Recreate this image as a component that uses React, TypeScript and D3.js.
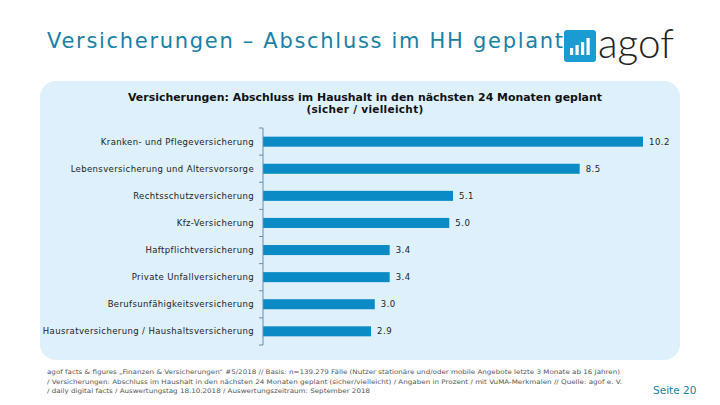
import * as d3 from "d3";

const categories = [
  "Kranken- und Pflegeversicherung",
  "Lebensversicherung und Altersvorsorge",
  "Rechtsschutzversicherung",
  "Kfz-Versicherung",
  "Haftpflichtversicherung",
  "Private Unfallversicherung",
  "Berufsunfähigkeitsversicherung",
  "Hausratversicherung / Haushaltsversicherung",
];
const values = [10.2, 8.5, 5.1, 5.0, 3.4, 3.4, 3.0, 2.9];

const footerLines = [
  "agof facts & figures „Finanzen & Versicherungen“ #5/2018 // Basis: n=139.279 Fälle (Nutzer stationäre und/oder mobile Angebote letzte 3 Monate ab 16 Jahren)",
  "/ Versicherungen: Abschluss im Haushalt in den nächsten 24 Monaten geplant (sicher/vielleicht) / Angaben in Prozent / mit VuMA-Merkmalen // Quelle: agof e. V.",
  "/ daily digital facts / Auswertungstag 18.10.2018 / Auswertungszeitraum: September 2018",
];
const footerWidths = [573, 575, 323];

const W = 720;
const H = 405;
const FONT = "'DejaVu Sans', Verdana, sans-serif";
const BAR = "#0a8bc5";

export default function App() {
  const axisX = 263;
  const x = d3.scaleLinear().domain([0, 10.2]).range([axisX, 643]);
  const y = d3.scaleBand().domain(categories).range([128, 345]).paddingInner(0.63).paddingOuter(0.32);
  const ticks = d3.range(categories.length + 1).map((i) => 128 + (i * (345 - 128)) / categories.length);

  return (
    <svg width={W} height={H} style={{ position: "absolute", left: 0, top: 0 }}>
      <rect width={W} height={H} fill="#fff" />
      <text x={47} y={48} fontFamily="'DejaVu Sans', Verdana, sans-serif" fontSize={21} fill="#1a80a6" textLength={516} lengthAdjust="spacing">
        Versicherungen – Abschluss im HH geplant
      </text>
      {/* logo */}
      <rect x={564} y={30} width={32} height={32} rx={3} fill="#1a9bd1" />
      {[0, 1, 2, 3].map((i) => {
        const hs = [7, 10, 13, 17];
        return <rect key={i} x={570 + i * 5.5} y={55 - hs[i]} width={3.2} height={hs[i]} fill="#fff" />;
      })}
      <text x={598} y={58} fontFamily="Lato, Roboto, sans-serif" fontSize={42} fontWeight={300} fill="#222" textLength={76} lengthAdjust="spacingAndGlyphs">
        agof
      </text>

      <rect x={40} y={81} width={640} height={279} rx={16} fill="#ddf0fc" />
      <text x={365} y={101} textAnchor="middle" fontFamily={FONT} fontSize={10.5} fontWeight="bold" fill="#111" textLength={474} lengthAdjust="spacingAndGlyphs">
        Versicherungen: Abschluss im Haushalt in den nächsten 24 Monaten geplant
      </text>
      <text x={365} y={113} textAnchor="middle" fontFamily={FONT} fontSize={10.5} fontWeight="bold" fill="#111" letterSpacing={0.3}>
        (sicher / vielleicht)
      </text>

      {categories.map((c, i) => {
        const yy = y(c)!;
        return (
          <g key={c}>
            <rect x={axisX} y={yy} width={x(values[i]) - axisX} height={y.bandwidth()} fill={BAR} />
            <text x={axisX - 9} y={yy + y.bandwidth() / 2} dy="0.35em" textAnchor="end" fontFamily={FONT} fontSize={8.5} letterSpacing={0.38} fill="#222">
              {c}
            </text>
            <text x={x(values[i]) + 6} y={yy + y.bandwidth() / 2} dy="0.35em" fontFamily={FONT} fontSize={8.5} letterSpacing={0.5} fill="#222">
              {d3.format(".1f")(values[i])}
            </text>
          </g>
        );
      })}
      <line x1={axisX} x2={axisX} y1={128} y2={345} stroke="#6a8ea6" />
      {ticks.map((t) => (
        <line key={t} x1={axisX - 4} x2={axisX} y1={t} y2={t} stroke="#6a8ea6" />
      ))}

      {footerLines.map((l, i) => (
        <text key={i} x={47} y={374 + i * 9.5} fontFamily={FONT} fontSize={6.3} fill="#555" textLength={footerWidths[i]} lengthAdjust="spacingAndGlyphs">
          {l}
        </text>
      ))}
      <text x={653} y={394} fontFamily={FONT} fontSize={10.5} fill="#1a80a6">
        Seite 20
      </text>
    </svg>
  );
}
